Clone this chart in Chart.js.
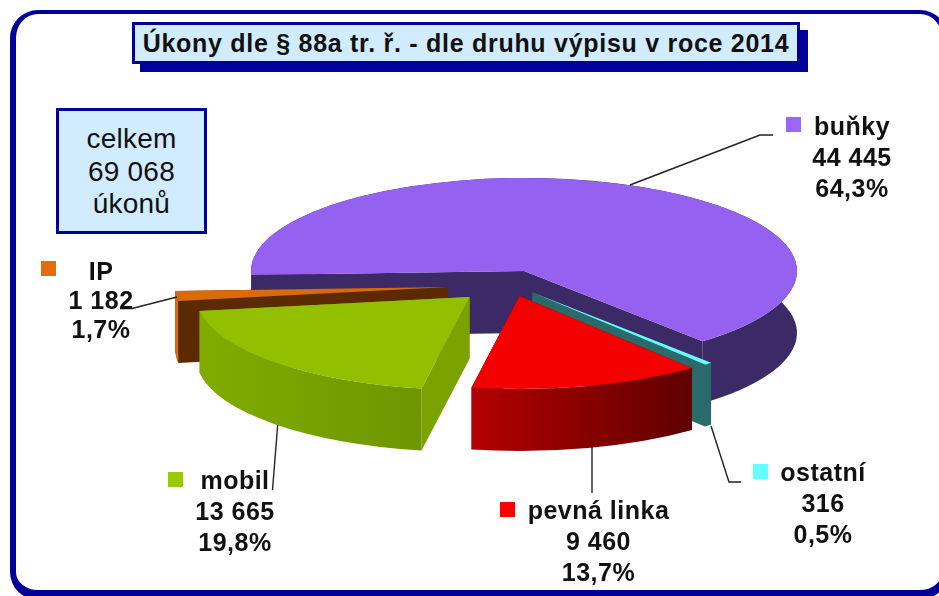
<!DOCTYPE html>
<html lang="cs"><head><meta charset="utf-8">
<script src="https://cdn.jsdelivr.net/npm/chart.js@4"></script>
<style>
html,body{margin:0;padding:0;background:#fff;overflow:hidden;width:939px;height:596px}
#frame{position:absolute;box-sizing:border-box;left:10px;top:10px;width:938px;height:590px;border:solid #000099;border-width:4px 6px 10px 6px;border-radius:28px}
#wrap{position:absolute;left:0;top:0;width:939px;height:596px}
.box{position:absolute;box-sizing:border-box;background:#d2ecff;border:3px solid #000099;font-family:"Liberation Sans",Arial,sans-serif;color:#111;text-align:center}
#shadow{position:absolute;left:140px;top:30px;width:668px;height:42px;background:#000099}
#title{left:132px;top:22px;width:668px;height:42px;font-weight:bold;font-size:25px;line-height:36px;letter-spacing:.72px;white-space:nowrap}
#total{left:56px;top:108px;width:151px;height:126px;font-size:28px;line-height:32.5px;padding-top:12px;letter-spacing:.2px}
.lab{position:absolute;font:bold 25px/31px "Liberation Sans",Arial,sans-serif;letter-spacing:.5px;color:#111;text-align:center;white-space:nowrap;transform:translateX(-50%)}
</style></head><body>
<div id="frame"></div>
<div id="shadow"></div>
<div class="box" id="title">Úkony dle § 88a tr. ř. - dle druhu výpisu v roce 2014</div>
<div class="box" id="total">celkem<br>69 068<br>úkonů</div>
<div id="wrap"><canvas id="c" width="939" height="596"></canvas></div>
<div class="lab" style="left:852px;top:110.5px">buňky<br>44 445<br>64,3%</div>
<div class="lab" style="left:823px;top:457px">ostatní<br>316<br>0,5%</div>
<div class="lab" style="left:598.5px;top:495px">pevná linka<br>9 460<br>13,7%</div>
<div class="lab" style="left:235px;top:465px">mobil<br>13 665<br>19,8%</div>
<div class="lab" style="left:101px;top:257px;line-height:29px">IP<br>1 182<br>1,7%</div>
<script>
const categories = ["buňky","ostatní","pevná linka","mobil","IP"];
const values = [44445,316,9460,13665,1182];
const topColors = ["#9461f0","#66ffff","#f50000","#92c000","#d96b0b"];
const legendColors = ["#9966ff","#66ffff","#ff0000","#99cc00","#e36c0a"];
const radialColors = ["#3c2a66","#2a6a6a","#640000","#7aa300","#5c2a00"];
const outerStops = [["#3c2a66","#3c2a66"],["#2a6a6a","#2a6a6a"],["#b30000","#600000"],["#80ac00","#6d9600"],["#d96b0b","#d96b0b"]];
// slice tip on the page (exploded 3-D layout of the reference)
const tips = [[524,271],[532.5,292.5],[519.5,296],[469.5,297],[448,287]];
const RX = 273, RY = 93, DEPTH = 62;
const drawOrder = [0,1,4,2,3];
const markers = [[786,117],[753,464],[500,502],[168,472],[41,261]];
const leaders = [
 [[773,135],[760,135],[630,185]],
 [[711,426],[729,482],[741,482]],
 [[592,447],[592,493]],
 [[277.7,425],[272.5,490]],
 [[177,297],[132,308.5],[120,308.5]]
];
const pie3d = {
  id:'pie3d',
  beforeDatasetsDraw(chart){
    const ctx = chart.ctx, arcs = chart.getDatasetMeta(0).data;
    for(const i of drawOrder){
      const a = arcs[i], [tx,ty] = tips[i];
      const s = a.startAngle, e = a.endAngle;
      const pt = t => [tx+RX*Math.cos(t), ty+RY*Math.sin(t)];
      // radial walls
      ctx.fillStyle = radialColors[i];
      for(const t of [s,e]){
        const p = pt(t);
        ctx.beginPath();ctx.moveTo(tx,ty);ctx.lineTo(p[0],p[1]);ctx.lineTo(p[0],p[1]+DEPTH);ctx.lineTo(tx,ty+DEPTH);ctx.closePath();ctx.fill();
      }
      // outer wall
      const ps = pt(s), pe = pt(e);
      const g = ctx.createLinearGradient(Math.min(ps[0],pe[0]),0,Math.max(ps[0],pe[0]),0);
      g.addColorStop(0,outerStops[i][0]);g.addColorStop(1,outerStops[i][1]);
      ctx.fillStyle = g;
      ctx.beginPath();
      ctx.ellipse(tx,ty,RX,RY,0,s,e,false);
      ctx.ellipse(tx,ty+DEPTH,RX,RY,0,e,s,true);
      ctx.closePath();ctx.fill();
      // top surface: the library's own arc element under an elliptical transform
      ctx.save();
      ctx.translate(tx,ty);
      ctx.scale(RX/a.outerRadius,RY/a.outerRadius);
      ctx.translate(-a.x,-a.y);
      a.draw(ctx);
      ctx.restore();
    }
    // leader lines
    ctx.strokeStyle='#222';ctx.lineWidth=1.4;
    for(const l of leaders){
      ctx.beginPath();l.forEach((p,k)=>k?ctx.lineTo(p[0],p[1]):ctx.moveTo(p[0],p[1]));ctx.stroke();
    }
    // legend markers
    markers.forEach((m,i)=>{ctx.fillStyle=legendColors[i];ctx.fillRect(m[0],m[1],15,15);});
    return false;
  }
};
new Chart(document.getElementById('c'),{
  type:'pie',
  data:{labels:categories,datasets:[{data:values,backgroundColor:topColors,borderWidth:0}]},
  options:{
    responsive:false,animation:false,rotation:-92.5,
    plugins:{legend:{display:false},tooltip:{enabled:false},title:{display:false}}
  },
  plugins:[pie3d]
});
</script>
</body></html>
